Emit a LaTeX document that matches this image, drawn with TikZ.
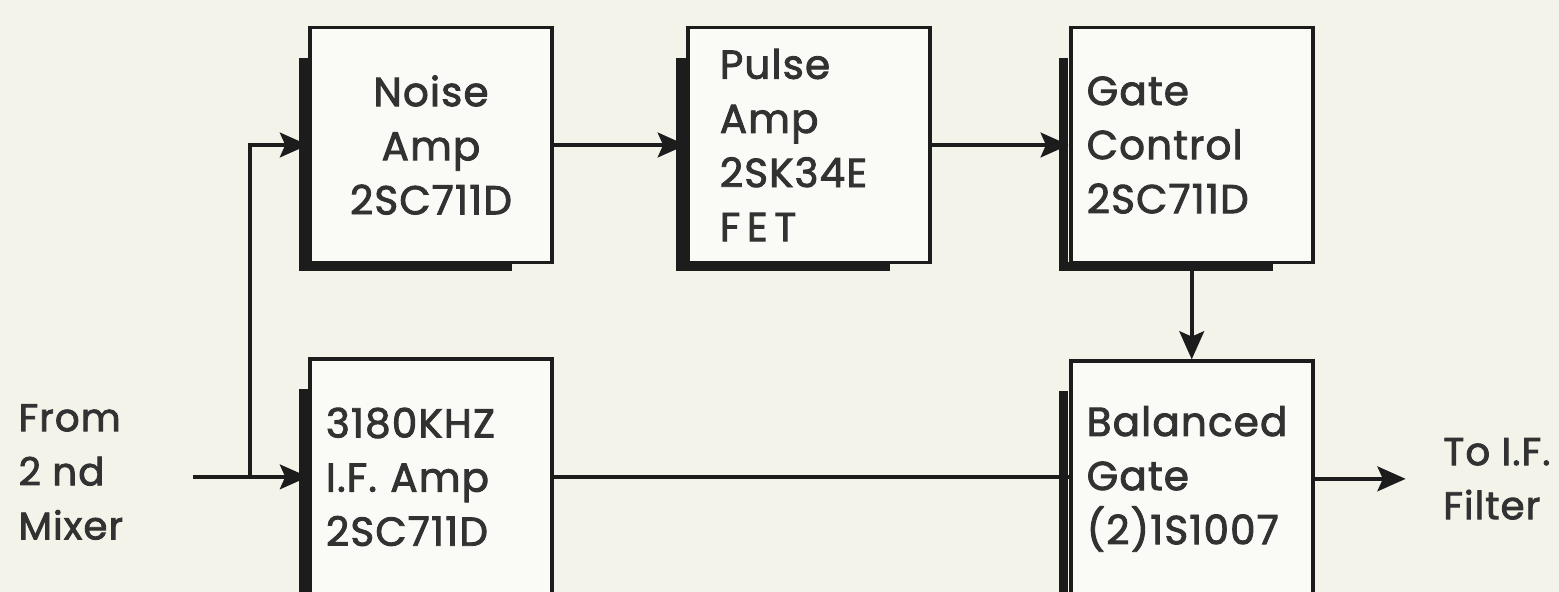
\documentclass[tikz,border=0pt]{standalone}
\usepackage{fontspec}
\setmainfont{Poppins}[RawFeature={embolden=2.2}, LetterSpace=3]
\usepackage{tikz}
\usetikzlibrary{arrows.meta, positioning, calc}
\definecolor{paper}{RGB}{244,243,234}
\definecolor{ink}{RGB}{28,28,28}
\definecolor{lettering}{RGB}{50,50,50}

\begin{document}
\begin{tikzpicture}[
		node distance=1.32cm,
		% lines and arrows of the signal path
		myarrow/.style={-{Stealth[length=8pt, width=7pt, inset=1.5pt]}, line width=1.2pt, ink},
		myline/.style={line width=1.2pt, ink},
		block/.style={rectangle, draw=ink, line width=1.1pt, fill=white!55!paper, minimum width=2.42cm, minimum height=2.35cm, text width=2.1cm, align=left, text=lettering, font=\fontsize{11.5}{15.4}\selectfont},
		sidetext/.style={align=left, inner sep=0pt, text=lettering, font=\fontsize{11}{15.4}\selectfont},
		shadowline/.style={line width=2.6pt, ink}
		]
		
		\fill[paper] (0,0) rectangle (15.59,-5.92);
		\useasboundingbox (0,0) rectangle (15.59,-5.92);
		
		\node[block, align=center] (noise) at (4.31,-1.45) {Noise\\Amp\\2SC711D};
		\node[block, text width=1.78cm, right=of noise] (pulse) {Pulse\\Amp\\2SK34E\\F\,E\,T};
		\node[block, right=1.37cm of pulse] (gate) {Gate\\Control\\2SC711D};
		\node[block, below=0.93cm of noise] (ifamp) {3180KHZ\\I.F. Amp\\2SC711D};
		\node[block, below=0.95cm of gate] (balanced) {Balanced\\Gate\\(2)1S1007};
		
		% thick left and bottom edge of each box
		\foreach \b in {noise,pulse,gate,ifamp,balanced}
			\draw[shadowline] ($(\b.north west)+(-0.05,-0.32)$) -- ($(\b.south west)+(-0.05,-0.02)$) -- ($(\b.south east)+(-0.42,-0.02)$);
		
		\node[sidetext, anchor=west] (src) at (0.18,-4.72) {From\\2 nd\\Mixer};
		\coordinate[left=1.15cm of ifamp.west] (in);
		\coordinate[left=0.58cm of ifamp.west] (split);
		\coordinate[right=0.91cm of balanced.east] (out);
		\node[sidetext, right=0.37cm of out] (dst) {To I.F.\\Filter};
		
		\draw[myarrow] (in) -- (ifamp.west);
		\draw[myarrow] (split) |- (noise.west);
		\draw[myarrow] (noise) -- (pulse);
		\draw[myarrow] (pulse) -- (gate);
		\draw[myarrow] (gate) -- (balanced);
		\draw[myline] (ifamp.east) -- (ifamp.east -| balanced.west);
		\draw[myarrow] (balanced.east) -- (out);
		
	\end{tikzpicture}
\end{document}
